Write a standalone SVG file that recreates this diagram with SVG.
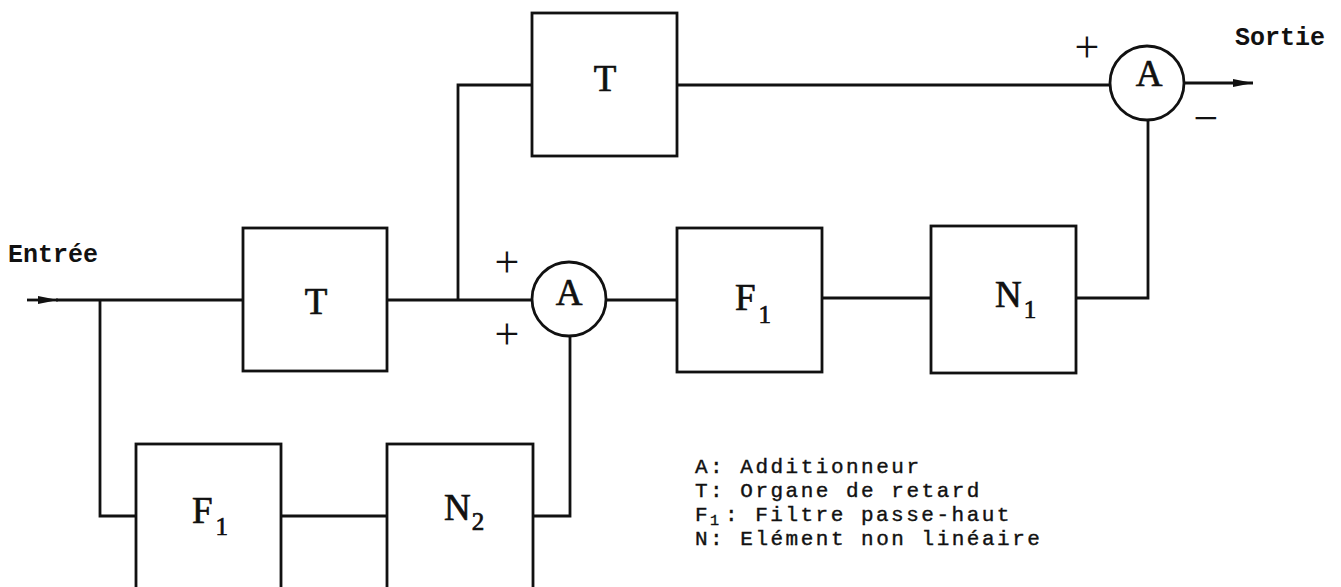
<svg xmlns="http://www.w3.org/2000/svg" width="1341" height="587" viewBox="0 0 1341 587">
<style>
.box{fill:#fff;stroke:#111;stroke-width:2.8}
.ln{fill:none;stroke:#111;stroke-width:2.8}
.lbl{font-family:"Liberation Serif",serif;font-size:37px;fill:#111;stroke:#111;stroke-width:0.7}
.sub{font-size:25px}
.io{font-family:"Liberation Mono",monospace;font-size:25px;font-weight:bold;fill:#111}
.leg{font-family:"Liberation Mono",monospace;font-size:21px;letter-spacing:2.5px;fill:#111;stroke:#111;stroke-width:0.4}
.sgn{font-family:"Liberation Serif",serif;font-size:44px;fill:#111;text-anchor:middle}
</style>
<defs>
<marker id="arr" viewBox="0 0 20 10" refX="20" refY="5" markerWidth="20" markerHeight="10" markerUnits="userSpaceOnUse" orient="auto">
<path d="M0,1 L20,5 L0,9 Z" fill="#111"/>
</marker>
</defs>
<g id="connectors">
<line class="ln" x1="27" y1="300" x2="58" y2="300" marker-end="url(#arr)"/>
<polyline class="ln" points="56,300 243,300"/>
<polyline class="ln" points="100,300 100,516 136,516"/>
<polyline class="ln" points="281,516 387,516"/>
<polyline class="ln" points="533,516 570,516 570,336"/>
<polyline class="ln" points="387,300 532,300"/>
<polyline class="ln" points="458,300 458,85 532,85"/>
<polyline class="ln" points="677,85 1110,85"/>
<polyline class="ln" points="606,300 677,300"/>
<polyline class="ln" points="822,298 931,298"/>
<polyline class="ln" points="1076,298 1148,298 1148,120"/>
<line class="ln" x1="1184" y1="83" x2="1253" y2="83" marker-end="url(#arr)"/>
</g>
<g id="in-label"><text class="io" x="8" y="262">Entrée</text></g>
<g id="out-label"><text class="io" x="1235" y="45">Sortie</text></g>
<g id="T-mid"><rect class="box" x="243" y="228" width="144" height="143"/><text class="lbl" x="316" y="314" text-anchor="middle">T</text></g>
<g id="T-top"><rect class="box" x="532" y="13" width="145" height="143"/><text class="lbl" x="605" y="91" text-anchor="middle">T</text></g>
<g id="A-mid"><circle class="box" cx="569" cy="299" r="37"/><text class="lbl" x="569" y="305" text-anchor="middle" font-size="35">A</text>
<text class="sgn" x="507" y="277">+</text><text class="sgn" x="507" y="349">+</text></g>
<g id="A-out"><circle class="box" cx="1147" cy="83" r="37"/><text class="lbl" x="1149" y="86" text-anchor="middle" font-size="35">A</text>
<text class="sgn" x="1087" y="62">+</text><text class="sgn" x="1206" y="133">−</text></g>
<g id="F1-mid"><rect class="box" x="677" y="228" width="145" height="144"/><text class="lbl" x="735" y="310">F<tspan class="sub" dx="3" dy="13">1</tspan></text></g>
<g id="N1"><rect class="box" x="931" y="226" width="145" height="147"/><text class="lbl" x="995" y="307">N<tspan class="sub" dx="2" dy="11">1</tspan></text></g>
<g id="F1-bot"><rect class="box" x="136" y="444" width="145" height="170"/><text class="lbl" x="192" y="523">F<tspan class="sub" dx="3" dy="12">1</tspan></text></g>
<g id="N2"><rect class="box" x="387" y="444" width="146" height="170"/><text class="lbl" x="444" y="520">N<tspan class="sub" dx="1" dy="10">2</tspan></text></g>
<g id="legend">
<text class="leg" x="695" y="473">A: Additionneur</text>
<text class="leg" x="695" y="497">T: Organe de retard</text>
<text class="leg" x="695" y="521">F<tspan font-size="15" dy="4">1</tspan><tspan x="725" dy="-4">: Filtre passe-haut</tspan></text>
<text class="leg" x="695" y="545">N: Elément non linéaire</text>
</g>
</svg>
